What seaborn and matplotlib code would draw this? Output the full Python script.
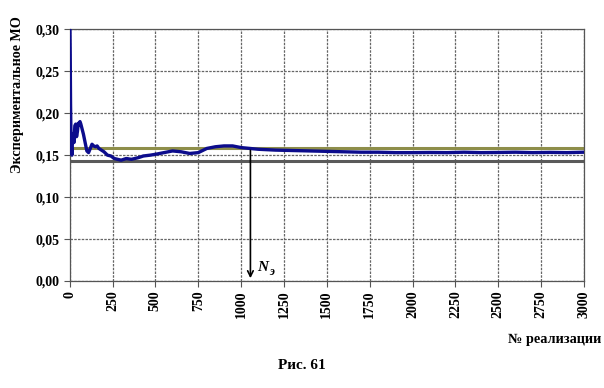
import matplotlib
matplotlib.use("Agg")
import matplotlib.pyplot as plt
import seaborn as sns
import pandas as pd

# ---- data ----
realization = [1, 3, 5, 7, 10, 13, 16, 20, 25, 30, 35, 40, 45, 50, 55, 60, 65, 70,
               80, 90, 100, 110, 120, 130, 140, 150, 160, 170, 185, 200, 220, 240,
               260, 280, 300, 330, 360, 400, 430, 470, 500, 550, 600, 650, 700, 750,
               800, 850, 900, 950, 1000, 1050, 1100, 1200, 1300, 1400, 1500, 1600,
               1700, 1800, 1900, 2000, 2100, 2200, 2300, 2400, 2500, 2600, 2700,
               2800, 2900, 3000]
mean_value = [0.31, 0.27, 0.21, 0.18, 0.16, 0.15, 0.17, 0.175, 0.165, 0.185, 0.187,
              0.172, 0.178, 0.188, 0.186, 0.190, 0.187, 0.183, 0.175, 0.165, 0.155,
              0.153, 0.158, 0.163, 0.161, 0.160, 0.161, 0.158, 0.156, 0.154, 0.150,
              0.149, 0.146, 0.145, 0.144, 0.146, 0.145, 0.147, 0.149, 0.150, 0.151,
              0.153, 0.155, 0.154, 0.152, 0.153, 0.158, 0.160, 0.161, 0.161, 0.159,
              0.158, 0.157, 0.156, 0.1555, 0.155, 0.1545, 0.154, 0.1535, 0.1535,
              0.153, 0.153, 0.1532, 0.153, 0.1535, 0.153, 0.1532, 0.1535, 0.153,
              0.1533, 0.153, 0.1535]
upper_bound = 0.159
lower_bound = 0.1427
n_e = 1054
x_ticks = list(range(0, 3001, 250))
y_ticks = [0.00, 0.05, 0.10, 0.15, 0.20, 0.25, 0.30]
y_tick_labels = ["0,00", "0,05", "0,10", "0,15", "0,20", "0,25", "0,30"]

df = pd.DataFrame({"n": realization, "m": mean_value})

plt.rcParams["font.family"] = ["Liberation Serif", "DejaVu Serif"]
plt.rcParams["font.weight"] = "bold"

fig = plt.figure(figsize=(6.04, 3.88), dpi=100)
ax = fig.add_axes([0.1154, 0.2758, 0.8516, 0.6487])

ax.axhline(upper_bound, color="#8e8e4a", lw=2.2, zorder=2)
ax.axhline(lower_bound, color="#5a5a5a", lw=2.2, zorder=2)
sns.lineplot(data=df, x="n", y="m", ax=ax, color="#0c0c8c", lw=2.4, zorder=3)

ax.set_xlim(0, 3000)
ax.set_ylim(0, 0.30)
ax.set_xticks(x_ticks)
ax.set_xticklabels([str(t) for t in x_ticks], rotation=90, fontsize=10, fontweight="bold")
ax.set_yticks(y_ticks)
ax.set_yticklabels(y_tick_labels, fontsize=10, fontweight="bold")
ax.grid(True, color="#666666", ls=(0, (2, 1)), lw=0.9)
ax.set_axisbelow(True)
for s in ax.spines.values():
    s.set_color("#555555")
    s.set_linestyle((0, (2, 1)))
    s.set_linewidth(0.9)
ax.tick_params(length=4, width=0.8, color="#555555", pad=3)
ax.set_xlabel("")
ax.set_ylabel("")

ax.annotate("", xy=(n_e, 0.0), xytext=(n_e, upper_bound),
            arrowprops=dict(arrowstyle="->", color="black", lw=1.2), zorder=4)
ax.text(n_e + 40, 0.012, "N", fontsize=11, fontstyle="italic", fontweight="bold")
ax.text(n_e + 108, 0.007, "э", fontsize=8.5, fontstyle="italic", fontweight="bold")

fig.text(0.029, 0.755, "Экспериментальное МО", rotation=90, ha="center", va="center",
         fontsize=10.2, fontweight="bold")
fig.text(0.995, 0.124, "№ реализации", ha="right", va="center", fontsize=10.3, fontweight="bold")
fig.text(0.5, 0.059, "Рис. 61", ha="center", va="center", fontsize=11, fontweight="bold")

fig.savefig("out.png", dpi=100)
